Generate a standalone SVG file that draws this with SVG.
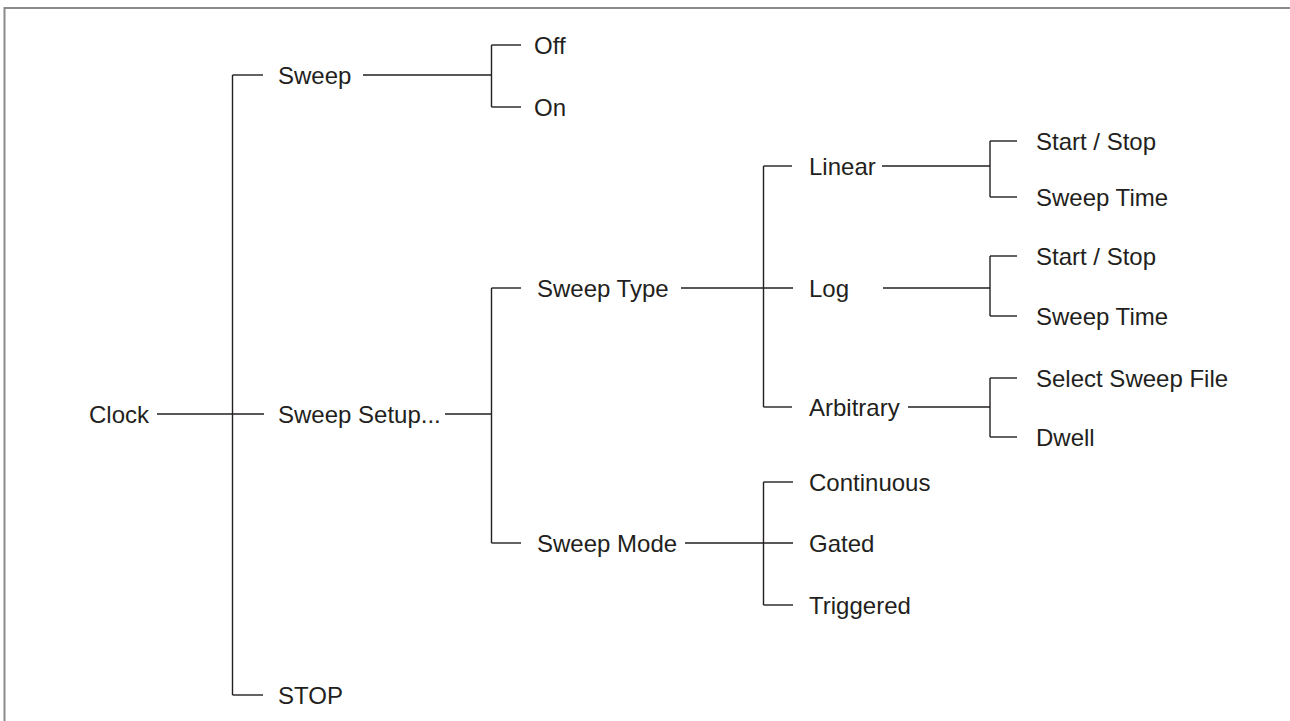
<svg xmlns="http://www.w3.org/2000/svg" width="1290" height="721" viewBox="0 0 1290 721">
<style>
text{font-family:"Liberation Sans",Arial,sans-serif;font-size:24px;fill:#231f20;dominant-baseline:central}
.c line{stroke:#231f20;stroke-width:1.4;fill:none}
.frame{stroke:#8a8a8a;stroke-width:2;fill:none}
</style>
<rect width="1290" height="721" fill="#ffffff"/>
<path class="frame" d="M4.5,721 V8 H1290"/>
<g class="c" id="connectors">
<line x1="157" y1="414" x2="264" y2="414"/>
<line x1="232.5" y1="75" x2="232.5" y2="695"/>
<line x1="232.5" y1="75" x2="263" y2="75"/>
<line x1="232.5" y1="695" x2="263" y2="695"/>
<line x1="363" y1="75" x2="491.5" y2="75"/>
<line x1="491.5" y1="45" x2="491.5" y2="107"/>
<line x1="491.5" y1="45" x2="521" y2="45"/>
<line x1="491.5" y1="107" x2="521" y2="107"/>
<line x1="445" y1="414" x2="491.5" y2="414"/>
<line x1="491.5" y1="288" x2="491.5" y2="543"/>
<line x1="491.5" y1="288" x2="521" y2="288"/>
<line x1="491.5" y1="543" x2="521" y2="543"/>
<line x1="681" y1="288" x2="793" y2="288"/>
<line x1="763.5" y1="166" x2="763.5" y2="407"/>
<line x1="763.5" y1="166" x2="792" y2="166"/>
<line x1="763.5" y1="407" x2="792" y2="407"/>
<line x1="882" y1="166" x2="990" y2="166"/>
<line x1="883" y1="288" x2="990" y2="288"/>
<line x1="908" y1="407" x2="990" y2="407"/>
<line x1="990" y1="141" x2="990" y2="197"/>
<line x1="990" y1="141" x2="1017" y2="141"/>
<line x1="990" y1="197" x2="1017" y2="197"/>
<line x1="990" y1="256" x2="990" y2="316"/>
<line x1="990" y1="256" x2="1017" y2="256"/>
<line x1="990" y1="316" x2="1017" y2="316"/>
<line x1="990" y1="378" x2="990" y2="437"/>
<line x1="990" y1="378" x2="1017" y2="378"/>
<line x1="990" y1="437" x2="1017" y2="437"/>
<line x1="685" y1="543" x2="793" y2="543"/>
<line x1="763.5" y1="482" x2="763.5" y2="605"/>
<line x1="763.5" y1="482" x2="793" y2="482"/>
<line x1="763.5" y1="605" x2="793" y2="605"/>
</g>
<g id="clock"><text x="89" y="414">Clock</text></g>
<g id="sweep"><text x="278" y="75">Sweep</text></g>
<g id="off"><text x="534" y="45">Off</text></g>
<g id="on"><text x="534" y="107">On</text></g>
<g id="sweep-setup"><text x="278" y="414">Sweep Setup...</text></g>
<g id="stop"><text x="278" y="695">STOP</text></g>
<g id="sweep-type"><text x="537" y="288">Sweep Type</text></g>
<g id="sweep-mode"><text x="537" y="543">Sweep Mode</text></g>
<g id="linear"><text x="809" y="166">Linear</text></g>
<g id="log"><text x="809" y="288">Log</text></g>
<g id="arbitrary"><text x="809" y="407">Arbitrary</text></g>
<g id="lin-start-stop"><text x="1036" y="141">Start / Stop</text></g>
<g id="lin-sweep-time"><text x="1036" y="197">Sweep Time</text></g>
<g id="log-start-stop"><text x="1036" y="256">Start / Stop</text></g>
<g id="log-sweep-time"><text x="1036" y="316">Sweep Time</text></g>
<g id="select-sweep-file"><text x="1036" y="378">Select Sweep File</text></g>
<g id="dwell"><text x="1036" y="437">Dwell</text></g>
<g id="continuous"><text x="809" y="482">Continuous</text></g>
<g id="gated"><text x="809" y="543">Gated</text></g>
<g id="triggered"><text x="809" y="605">Triggered</text></g>
</svg>
